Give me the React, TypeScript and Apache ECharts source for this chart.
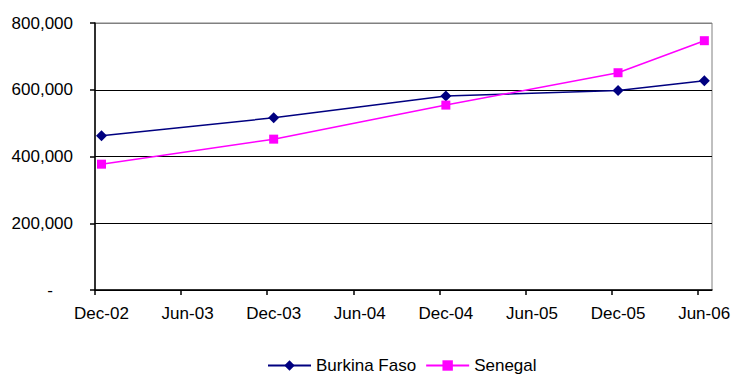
import React, { useEffect, useRef } from "react";
import * as echarts from "echarts";

const tickLabels = ["Dec-02", "Jun-03", "Dec-03", "Jun-04", "Dec-04", "Jun-05", "Dec-05", "Jun-06"];
const dates = ["2002-12-15", "2003-12-15", "2004-12-15", "2005-12-15", "2006-06-15"];
const burkinaFaso = [462000, 516000, 581000, 598000, 627000];
const senegal = [377000, 452000, 554000, 651000, 747000];
const yTicks = [0, 200000, 400000, 600000, 800000];

const FONT = "'Liberation Sans', Arial, sans-serif";

// months since 1 Dec 2002
function monthIndex(s: string): number {
  const [y, m, d] = s.split("-").map(Number);
  const dim = new Date(y, m, 0).getDate();
  return (y - 2002) * 12 + (m - 12) + (d - 1) / dim;
}

export default function App() {
  const ref = useRef<HTMLDivElement>(null);
  useEffect(() => {
    if (!ref.current) return;
    const chart = echarts.init(ref.current, null, { renderer: "svg" });
    const xs = dates.map(monthIndex);
    const tickVals = tickLabels.map((_, i) => i * 6);
    chart.setOption({
      animation: false,
      backgroundColor: "#ffffff",
      grid: {
        left: 95,
        right: 21,
        top: 23,
        bottom: 85,
        containLabel: false,
        outerBoundsMode: "none",
        show: true,
        borderColor: "#808080",
        borderWidth: 1,
        backgroundColor: "transparent",
      },
      xAxis: {
        type: "value",
        min: 0,
        max: 43,
        interval: 6,
        axisLine: { show: true, onZero: false, lineStyle: { color: "#000", width: 1.5 } },
        axisTick: { show: true, length: 5, customValues: tickVals, lineStyle: { color: "#000", width: 1.5 } },
        splitLine: { show: false },
        axisLabel: {
          customValues: tickVals,
          formatter: (v: number) => tickLabels[Math.round(v / 6)] ?? "",
          fontFamily: FONT,
          fontSize: 17,
          color: "#000",
          margin: 15,
          padding: [0, 0, 0, 13],
        },
      },
      yAxis: {
        type: "value",
        min: 0,
        max: 800000,
        interval: 200000,
        axisLine: { show: true, lineStyle: { color: "#000", width: 1.5 } },
        axisTick: { show: true, length: 5, lineStyle: { color: "#000", width: 1.5 } },
        splitLine: {
          show: true,
          lineStyle: { color: ["#000", "#000", "#000", "#000", "#808080"], width: 1 },
        },
        axisLabel: {
          margin: 22,
          fontFamily: FONT,
          fontSize: 17,
          color: "#000",
          formatter: (v: number) =>
            v === yTicks[0] ? "{dash|-}" : v.toLocaleString("en-US"),
          rich: {
            dash: { fontFamily: FONT, fontSize: 17, color: "#000", padding: [0, 20, 0, 0] },
          },
        },
      },
      legend: {
        left: 267,
        top: 357,
        padding: 0,
        itemWidth: 43,
        itemHeight: 13,
        itemGap: 9,
        textStyle: { fontFamily: FONT, fontSize: 17, color: "#000" },
        data: ["Burkina Faso", "Senegal"],
      },
      series: [
        {
          name: "Burkina Faso",
          type: "line",
          data: xs.map((x, i) => [x, burkinaFaso[i]]),
          symbol: "diamond",
          symbolSize: 11,
          showAllSymbol: true,
          color: "#000080",
          lineStyle: { color: "#000080", width: 1.5 },
          itemStyle: { color: "#000080" },
        },
        {
          name: "Senegal",
          type: "line",
          data: xs.map((x, i) => [x, senegal[i]]),
          symbol: "rect",
          symbolSize: 9,
          showAllSymbol: true,
          color: "#ff00ff",
          lineStyle: { color: "#ff00ff", width: 1.5 },
          itemStyle: { color: "#ff00ff" },
        },
      ],
    });
    return () => chart.dispose();
  }, []);
  return (
    <div
      ref={ref}
      style={{ position: "fixed", left: 0, top: 0, width: 733, height: 375, background: "#fff" }}
    />
  );
}
